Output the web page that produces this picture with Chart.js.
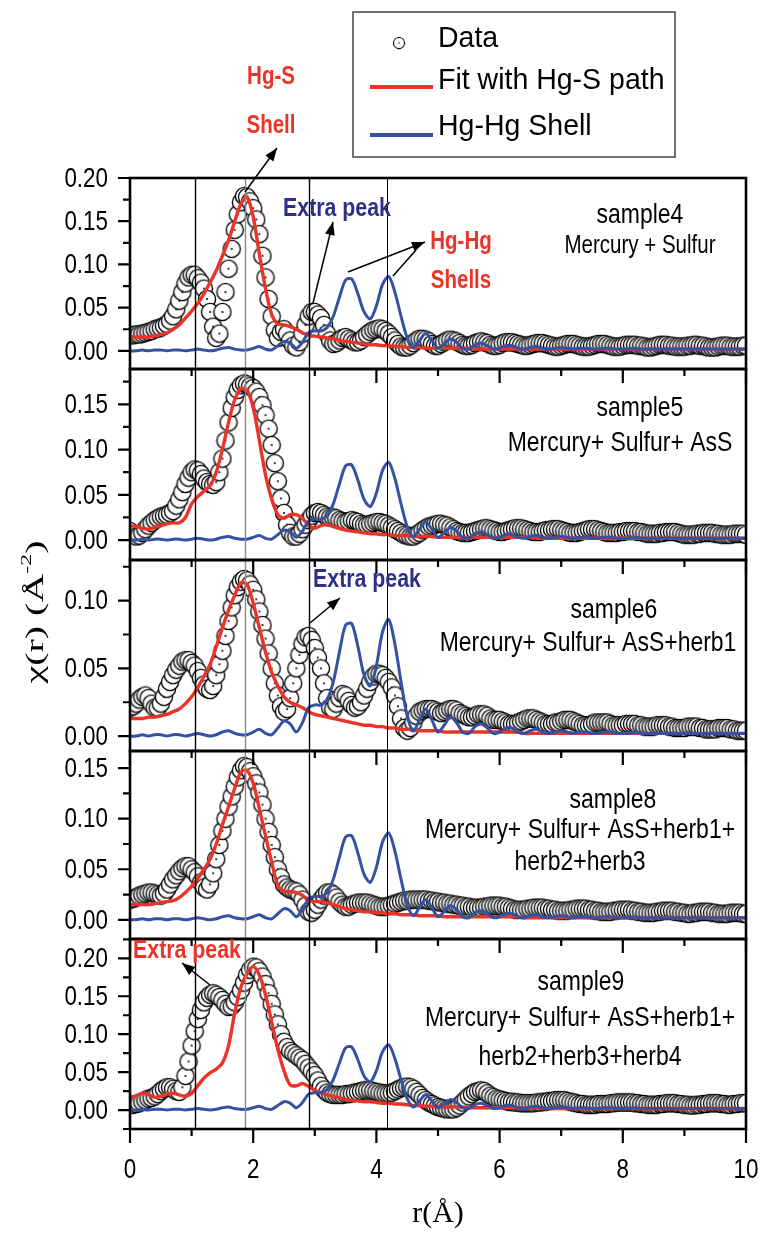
<!DOCTYPE html>
<html>
<head>
<meta charset="utf-8">
<title>Hg L3-edge FT magnitudes</title>
<script src="https://cdn.jsdelivr.net/npm/chart.js@4.4.0/dist/chart.umd.min.js"></script>
<style>
  html, body { margin: 0; padding: 0; background: #fff; }
  #chart { display: block; }
</style>
</head>
<body>
<canvas id="chart" width="762" height="1236"></canvas>
<script>
// r grids (Å): measured points every 0.05, fitted paths every 0.1
const rData = Array.from({ length: 201 }, (_, i) => i / 20);
const rFit = Array.from({ length: 101 }, (_, i) => i / 10);

// ---- sample4 : Mercury + Sulfur
const data4 = [
  .018,.018,.019,.019,.020,.021,.022,.023,.025,.026,
  .027,.029,.031,.035,.040,.048,.058,.068,.078,.085,
  .088,.088,.084,.079,.072,.060,.045,.028,.015,.020,
  .045,.068,.095,.118,.140,.158,.172,.179,.178,.173,
  .165,.152,.135,.110,.085,.060,.040,.024,.015,.022,
  .025,.020,.012,.006,.004,.010,.020,.030,.040,.045,
  .045,.042,.038,.030,.020,.012,.008,.009,.012,.015,
  .016,.014,.012,.010,.010,.012,.016,.019,.022,.024,
  .025,.026,.025,.023,.020,.016,.012,.008,.005,.004,
  .004,.006,.009,.012,.014,.014,.013,.011,.008,.006,
  .006,.008,.010,.012,.013,.012,.011,.009,.007,.006,
  .006,.007,.009,.010,.011,.010,.009,.007,.006,.006,
  .007,.009,.010,.010,.010,.009,.008,.007,.006,.006,
  .007,.008,.009,.009,.009,.008,.007,.006,.005,.005,
  .006,.007,.008,.008,.008,.007,.006,.005,.005,.005,
  .006,.007,.008,.008,.008,.007,.006,.005,.005,.005,
  .006,.007,.007,.007,.007,.006,.006,.005,.004,.004,
  .005,.006,.007,.007,.007,.006,.006,.005,.005,.005,
  .005,.006,.006,.007,.007,.006,.006,.005,.004,.004,
  .004,.005,.006,.006,.006,.005,.005,.005,.005,.006,
  .006];
const fit4 = [
  .016,.016,.016,.016,.017,.019,.021,.025,.030,.038,
  .046,.055,.066,.079,.093,.110,.128,.150,.170,.178,
  .155,.112,.072,.042,.031,.030,.028,.025,.021,.018,
  .017,.016,.015,.014,.012,.011,.010,.009,.008,.007,
  .007,.006,.006,.005,.005,.004,.004,.004,.003,.003,
  .003,.003,.003,.003,.003,.003,.002,.002,.002,.002,
  .002,.002,.002,.002,.002,.002,.002,.002,.002,.002,
  .002,.002,.002,.002,.002,.002,.002,.002,.002,.002,
  .002,.002,.002,.002,.002,.002,.002,.002,.002,.002,
  .002,.002,.002,.002,.002,.002,.002,.002,.002,.002,
  .002];

// ---- sample5 : Mercury+ Sulfur+ AsS
const data5 = [
  .010,.006,.004,.005,.008,.012,.016,.019,.022,.024,
  .026,.027,.028,.030,.032,.038,.045,.053,.062,.069,
  .075,.078,.077,.073,.068,.064,.062,.061,.064,.075,
  .090,.110,.130,.146,.158,.166,.171,.173,.172,.170,
  .168,.164,.158,.149,.138,.123,.105,.085,.065,.046,
  .030,.017,.008,.004,.004,.007,.012,.017,.022,.027,
  .030,.031,.030,.028,.026,.025,.025,.024,.022,.021,
  .020,.021,.022,.021,.020,.018,.017,.017,.018,.019,
  .020,.020,.019,.018,.016,.014,.012,.010,.008,.006,
  .005,.004,.004,.006,.008,.011,.013,.015,.016,.017,
  .018,.018,.017,.016,.014,.012,.010,.009,.008,.008,
  .008,.009,.010,.011,.012,.013,.013,.012,.011,.010,
  .009,.009,.010,.011,.012,.013,.013,.013,.012,.011,
  .010,.009,.009,.009,.010,.011,.011,.012,.012,.012,
  .011,.010,.009,.008,.008,.008,.009,.010,.011,.012,
  .012,.012,.011,.010,.009,.008,.008,.008,.008,.009,
  .009,.010,.010,.010,.010,.009,.009,.008,.007,.007,
  .007,.007,.008,.008,.009,.009,.009,.009,.008,.007,
  .006,.006,.006,.006,.007,.007,.008,.008,.008,.008,
  .007,.007,.006,.006,.006,.006,.007,.007,.007,.007,
  .006];
const fit5 = [
  .016,.015,.013,.012,.014,.016,.018,.019,.019,.025,
  .040,.048,.054,.060,.075,.100,.130,.155,.167,.166,
  .146,.110,.072,.045,.028,.024,.028,.028,.024,.016,
  .013,.016,.017,.015,.013,.011,.010,.009,.008,.007,
  .007,.006,.006,.005,.005,.005,.004,.004,.004,.004,
  .003,.003,.003,.003,.003,.003,.003,.003,.003,.003,
  .003,.003,.003,.003,.003,.003,.002,.002,.002,.002,
  .002,.002,.002,.002,.002,.002,.002,.002,.002,.002,
  .002,.002,.002,.002,.002,.002,.002,.002,.002,.002,
  .002,.002,.002,.002,.002,.002,.002,.002,.002,.002,
  .002];

// ---- sample6 : Mercury+ Sulfur+ AsS+herb1
const data6 = [
  .021,.022,.024,.027,.029,.030,.028,.024,.021,.021,
  .024,.029,.035,.040,.045,.049,.052,.055,.056,.056,
  .054,.052,.048,.043,.038,.035,.034,.037,.045,.053,
  .063,.074,.085,.095,.104,.110,.114,.116,.115,.112,
  .108,.101,.092,.082,.072,.061,.050,.039,.030,.022,
  .018,.020,.028,.039,.050,.060,.068,.073,.074,.071,
  .065,.058,.050,.039,.028,.021,.020,.024,.028,.031,
  .030,.026,.023,.021,.022,.025,.030,.035,.040,.044,
  .046,.046,.045,.043,.040,.036,.030,.022,.013,.006,
  .004,.006,.010,.015,.018,.019,.020,.020,.020,.019,
  .018,.017,.018,.019,.020,.020,.019,.017,.016,.015,
  .014,.014,.015,.016,.016,.016,.015,.013,.012,.012,
  .012,.011,.010,.009,.009,.009,.010,.011,.012,.013,
  .013,.013,.012,.011,.010,.009,.009,.009,.010,.010,
  .011,.012,.012,.012,.011,.010,.009,.008,.008,.008,
  .009,.010,.010,.010,.010,.010,.009,.008,.008,.008,
  .008,.009,.009,.009,.009,.008,.008,.007,.007,.007,
  .007,.008,.008,.008,.008,.007,.007,.006,.006,.006,
  .006,.007,.007,.007,.007,.006,.006,.005,.005,.005,
  .005,.006,.006,.006,.006,.005,.005,.004,.004,.004,
  .004];
const fit6 = [
  .013,.013,.013,.014,.014,.015,.016,.018,.020,.024,
  .029,.036,.044,.053,.066,.080,.093,.104,.113,.112,
  .098,.080,.062,.047,.037,.029,.025,.023,.021,.018,
  .016,.015,.014,.013,.012,.011,.010,.009,.008,.008,
  .007,.007,.006,.006,.005,.005,.005,.004,.004,.004,
  .004,.003,.003,.003,.003,.003,.003,.003,.003,.003,
  .003,.003,.003,.003,.002,.002,.002,.002,.002,.002,
  .002,.002,.002,.002,.002,.002,.002,.002,.002,.002,
  .002,.002,.002,.002,.002,.002,.002,.002,.002,.002,
  .002,.002,.002,.002,.002,.002,.002,.002,.002,.002,
  .002];

// ---- sample8 : Mercury+ Sulfur+ AsS+herb1+herb2+herb3
const data8 = [
  .020,.021,.022,.024,.025,.026,.027,.027,.026,.025,
  .024,.026,.030,.035,.040,.044,.048,.051,.053,.053,
  .050,.047,.043,.037,.032,.030,.035,.046,.060,.074,
  .088,.100,.112,.122,.132,.141,.148,.152,.151,.147,
  .142,.135,.126,.114,.100,.087,.074,.062,.050,.042,
  .035,.032,.030,.029,.028,.025,.020,.014,.008,.007,
  .010,.015,.020,.024,.027,.027,.025,.022,.018,.015,
  .013,.013,.015,.016,.017,.017,.017,.017,.016,.015,
  .014,.013,.013,.013,.014,.015,.016,.017,.018,.019,
  .019,.020,.020,.020,.020,.020,.020,.019,.019,.018,
  .018,.017,.017,.016,.016,.015,.015,.014,.014,.013,
  .013,.012,.012,.012,.012,.013,.013,.014,.014,.014,
  .014,.013,.013,.012,.011,.010,.010,.010,.010,.011,
  .011,.012,.012,.012,.012,.011,.011,.010,.010,.009,
  .009,.009,.009,.010,.010,.011,.011,.011,.011,.010,
  .010,.009,.009,.008,.008,.008,.008,.009,.009,.010,
  .010,.010,.010,.009,.009,.008,.008,.007,.007,.007,
  .007,.008,.008,.009,.009,.009,.009,.008,.008,.007,
  .007,.006,.006,.007,.007,.008,.008,.008,.008,.007,
  .007,.006,.006,.006,.006,.007,.007,.007,.007,.006,
  .006];
const fit8 = [
  .015,.015,.015,.015,.016,.017,.018,.019,.022,.027,
  .033,.041,.050,.060,.075,.094,.112,.130,.146,.148,
  .135,.110,.083,.057,.034,.028,.028,.027,.024,.019,
  .018,.018,.017,.015,.013,.011,.010,.009,.008,.008,
  .007,.007,.006,.006,.005,.005,.005,.004,.004,.004,
  .004,.003,.003,.003,.003,.003,.003,.003,.003,.003,
  .003,.003,.003,.003,.002,.002,.002,.002,.002,.002,
  .002,.002,.002,.002,.002,.002,.002,.002,.002,.002,
  .002,.002,.002,.002,.002,.002,.002,.002,.002,.002,
  .002,.002,.002,.002,.002,.002,.002,.002,.002,.002,
  .002];

// ---- sample9 : Mercury+ Sulfur+ AsS+herb1+herb2+herb3+herb4
const data9 = [
  .007,.007,.008,.009,.011,.013,.015,.016,.018,.021,
  .025,.028,.030,.030,.028,.025,.024,.030,.045,.064,
  .085,.104,.120,.132,.142,.148,.152,.154,.152,.149,
  .145,.140,.136,.137,.142,.149,.158,.168,.178,.185,
  .189,.188,.183,.176,.166,.154,.140,.126,.113,.100,
  .090,.083,.078,.075,.072,.069,.066,.061,.056,.051,
  .046,.039,.032,.027,.023,.021,.020,.020,.020,.020,
  .021,.021,.022,.023,.024,.025,.026,.026,.026,.025,
  .024,.023,.022,.022,.022,.023,.025,.027,.029,.030,
  .031,.030,.028,.024,.020,.016,.013,.010,.008,.006,
  .004,.003,.002,.001,.001,.001,.003,.006,.010,.014,
  .018,.021,.024,.025,.026,.025,.022,.019,.017,.015,
  .014,.013,.012,.011,.011,.010,.010,.009,.009,.009,
  .009,.009,.010,.010,.011,.011,.012,.012,.013,.013,
  .013,.013,.012,.011,.010,.009,.008,.008,.007,.007,
  .007,.007,.008,.008,.008,.008,.009,.009,.010,.010,
  .010,.010,.010,.010,.009,.009,.008,.008,.007,.007,
  .007,.007,.008,.008,.009,.009,.009,.009,.008,.008,
  .007,.007,.006,.006,.007,.007,.008,.008,.009,.009,
  .009,.009,.008,.008,.007,.007,.008,.008,.009,.009,
  .009];
const fit9 = [
  .016,.019,.022,.020,.017,.018,.021,.022,.020,.018,
  .022,.032,.042,.049,.054,.062,.085,.128,.162,.180,
  .189,.178,.152,.116,.080,.052,.033,.032,.035,.031,
  .026,.023,.020,.018,.016,.014,.013,.012,.011,.011,
  .010,.009,.009,.008,.008,.007,.006,.006,.005,.005,
  .005,.004,.004,.004,.004,.003,.003,.003,.003,.003,
  .003,.003,.003,.003,.003,.003,.003,.002,.002,.002,
  .002,.002,.002,.002,.002,.002,.002,.002,.002,.002,
  .002,.002,.002,.002,.002,.002,.002,.002,.002,.002,
  .002,.002,.002,.002,.002,.002,.002,.002,.002,.002,
  .002];

// Hg-Hg shell path (same in every panel)
const hgShell = [
  .000,.000,.001,.000,.001,.001,.000,.001,.001,.000,
  .001,.002,.001,.000,.001,.003,.004,.002,.001,.001,
  .003,.005,.002,.001,.006,.011,.009,.003,.010,.021,
  .023,.023,.027,.040,.062,.082,.083,.066,.045,.037,
  .052,.077,.086,.068,.040,.015,.004,.012,.020,.012,
  .003,.008,.014,.010,.003,.002,.007,.009,.006,.002,
  .003,.006,.006,.003,.002,.004,.005,.003,.002,.003,
  .004,.003,.002,.003,.003,.002,.002,.003,.003,.002,
  .002,.002,.003,.002,.002,.002,.002,.002,.002,.002,
  .002,.002,.002,.002,.002,.002,.002,.002,.002,.002,
  .002];

// panels, top to bottom
const panelIds = ['y4', 'y5', 'y6', 'y8', 'y9'];
const panelData = [data4, data5, data6, data8, data9];
const panelFit = [fit4, fit5, fit6, fit8, fit9];
const yMin = [-0.021, -0.022, -0.011, -0.019, -0.025];
const yMax = [0.20, 0.189, 0.13, 0.167, 0.2255];
const panelWeight = [191, 191, 191, 188, 190];
const sampleNames = ['sample4', 'sample5', 'sample6', 'sample8', 'sample9'];
const sampleText = [
  ['Mercury + Sulfur'],
  ['Mercury+ Sulfur+ AsS'],
  ['Mercury+ Sulfur+ AsS+herb1'],
  ['Mercury+ Sulfur+ AsS+herb1+', 'herb2+herb3'],
  ['Mercury+ Sulfur+ AsS+herb1+', 'herb2+herb3+herb4']
];
const xTicks = [0, 2, 4, 6, 8, 10];
const refLines = [1.05, 1.87, 2.91, 4.17];

const RED = '#ec3327';
const BLUE = '#3451a3';
const NAVY = '#2e2f86';
const SANS = '"Liberation Sans", Arial, sans-serif';
const SERIF = '"Liberation Serif", "Times New Roman", serif';

// open circle with a centre dot, like the Origin symbol
const ring = document.createElement('canvas');
ring.width = 20; ring.height = 20;
(() => {
  const c = ring.getContext('2d');
  c.beginPath(); c.arc(10, 10, 8.6, 0, Math.PI * 2);
  c.fillStyle = '#fff'; c.fill();
  c.lineWidth = 1.35; c.strokeStyle = '#000'; c.stroke();
  c.beginPath(); c.arc(10, 10, 1, 0, Math.PI * 2);
  c.fillStyle = '#000'; c.fill();
})();

const pts = (xs, ys) => ys.map((y, i) => ({ x: xs[i], y }));

const datasets = [];
panelIds.forEach((id, i) => {
  datasets.push({
    label: 'Hg-Hg Shell', data: pts(rFit, hgShell), yAxisID: id,
    borderColor: BLUE, borderWidth: 3, pointRadius: 0, tension: 0.3, order: 0, clip: 0
  });
  datasets.push({
    label: 'Fit with Hg-S path', data: pts(rFit, panelFit[i]), yAxisID: id,
    borderColor: RED, borderWidth: 3.4, pointRadius: 0, tension: 0.3, order: 1, clip: 0
  });
  datasets.push({
    label: 'Data', data: pts(rData, panelData[i]), yAxisID: id, showLine: false,
    pointStyle: ring, pointRadius: 9, order: 2, clip: 0
  });
});

const scales = {
  x: {
    type: 'linear', position: 'bottom', min: 0, max: 10,
    afterFit: (s) => { s.height = 107; },
    afterBuildTicks: (s) => { s.ticks = xTicks.map((v) => ({ value: v })); },
    grid: { display: false },
    border: { display: false },
    ticks: { display: false },
    title: { display: true, text: 'r(Å)', color: '#000', padding: { top: 0, bottom: 4 },
             font: { family: SERIF, size: 30 } }
  }
};
panelIds.forEach((id, i) => {
  scales[id] = {
    type: 'linear', position: 'left', stack: 'panels', stackWeight: panelWeight[i],
    weight: 10 - i, min: yMin[i], max: yMax[i],
    afterFit: (s) => { s.width = 130; },
    grid: { display: false },
    border: { display: false },
    ticks: { display: false, autoSkip: false, stepSize: 0.05, includeBounds: false }
  };
});

// Arial Narrow look: horizontally condensed Liberation Sans
function narrow(ctx, text, x, y, size, align, bold, sx) {
  ctx.save();
  ctx.translate(x, y);
  ctx.scale(sx || 0.82, 1);
  ctx.font = (bold ? 'bold ' : '') + size + 'px ' + SANS;
  ctx.textAlign = align;
  ctx.textBaseline = 'middle';
  ctx.fillText(text, 0, 0);
  ctx.restore();
}

function arrow(ctx, x1, y1, x2, y2, head) {
  ctx.beginPath(); ctx.moveTo(x1, y1); ctx.lineTo(x2, y2); ctx.stroke();
  if (!head) return;
  const a = Math.atan2(y2 - y1, x2 - x1);
  ctx.beginPath();
  ctx.moveTo(x2, y2);
  ctx.lineTo(x2 - 13 * Math.cos(a) + 5 * Math.sin(a), y2 - 13 * Math.sin(a) - 5 * Math.cos(a));
  ctx.lineTo(x2 - 13 * Math.cos(a) - 5 * Math.sin(a), y2 - 13 * Math.sin(a) + 5 * Math.cos(a));
  ctx.closePath(); ctx.fill();
}

const decor = {
  id: 'decor',
  afterDatasetsDraw(chart) {
    const ctx = chart.ctx;
    const xs = chart.scales.x;
    const { left, right } = chart.chartArea;
    const top0 = chart.scales[panelIds[0]].top;
    const bot0 = chart.scales[panelIds[4]].bottom;
    ctx.save();

    // reference lines through all panels
    refLines.forEach((v, k) => {
      const px = Math.round(xs.getPixelForValue(v)) + 0.5;
      ctx.strokeStyle = k === 1 ? '#8a8a8a' : '#000';
      ctx.lineWidth = k === 3 ? 1 : 1.4;
      ctx.beginPath(); ctx.moveTo(px, top0); ctx.lineTo(px, bot0); ctx.stroke();
    });

    // frames, outward ticks and tick labels
    ctx.strokeStyle = '#000';
    ctx.fillStyle = '#000';
    panelIds.forEach((id, i) => {
      const ys = chart.scales[id];
      ctx.lineWidth = 2.6;
      ctx.strokeRect(left, ys.top, right - left, ys.bottom - ys.top);
      ctx.lineWidth = 2.2;
      ctx.beginPath();
      for (let v = Math.ceil(yMin[i] / 0.025) * 0.025; v <= yMax[i] + 1e-9; v += 0.025) {
        const py = ys.getPixelForValue(v);
        const major = Math.abs(Math.round(v / 0.05) * 0.05 - v) < 1e-6;
        ctx.moveTo(left, py); ctx.lineTo(left - (major ? 12 : 7), py);
      }
      for (let v = 0; v <= 10; v++) {
        const px = xs.getPixelForValue(v);
        ctx.moveTo(px, ys.bottom); ctx.lineTo(px, ys.bottom + (v % 2 ? 7 : 14));
      }
      ctx.stroke();
      ys.ticks.forEach((t) => {
        narrow(ctx, t.value.toFixed(2), 108, ys.getPixelForValue(t.value) + 1, 28, 'right', false, 0.8);
      });

      // sample captions
      const cx = [640, 640, 614, 613, 581][i];
      const offs = [[37, 68], [39, 74], [50, 83], [49, 79, 111], [43, 79, 118]][i];
      const lx = [640, 620, 588, 580, 580][i];
      narrow(ctx, sampleNames[i], cx, ys.top + offs[0], 28, 'center');
      sampleText[i].forEach((t, k) => narrow(ctx, t, lx, ys.top + offs[k + 1], i === 0 ? 25 : 28, 'center'));
    });
    xs.ticks.forEach((t) => {
      narrow(ctx, String(t.value), xs.getPixelForValue(t.value), 1170, 28, 'center', false, 0.8);
    });

    // annotations
    ctx.fillStyle = RED;
    narrow(ctx, 'Hg-S', 271, 77, 25, 'center', true);
    narrow(ctx, 'Shell', 271, 126, 25, 'center', true);
    narrow(ctx, 'Hg-Hg', 461, 242, 25, 'center', true);
    narrow(ctx, 'Shells', 461, 281, 25, 'center', true);
    narrow(ctx, 'Extra peak', 187, 951, 26, 'center', true);
    ctx.fillStyle = NAVY;
    narrow(ctx, 'Extra peak', 337, 209, 26, 'center', true);
    narrow(ctx, 'Extra peak', 367, 580, 26, 'center', true);

    ctx.strokeStyle = '#000'; ctx.fillStyle = '#000'; ctx.lineWidth = 1.5;
    arrow(ctx, 245, 192, 277, 148, true);
    arrow(ctx, 313, 303, 333, 222, true);
    arrow(ctx, 348, 272, 425, 242, true);
    arrow(ctx, 393, 276, 416, 250, false);
    arrow(ctx, 310, 623, 340, 598, true);
    arrow(ctx, 210, 985, 182, 963, true);

    // legend
    ctx.lineWidth = 1.5; ctx.strokeStyle = '#444';
    ctx.strokeRect(353, 12, 322, 145);
    ctx.drawImage(ring, 399 - 6.5, 43 - 6.5, 13, 13);
    ctx.lineWidth = 4;
    ctx.strokeStyle = RED;
    ctx.beginPath(); ctx.moveTo(370, 87); ctx.lineTo(433, 87); ctx.stroke();
    ctx.strokeStyle = BLUE;
    ctx.beginPath(); ctx.moveTo(370, 135); ctx.lineTo(433, 135); ctx.stroke();
    ctx.fillStyle = '#000';
    narrow(ctx, 'Data', 438, 39, 30, 'left', false, 0.95);
    narrow(ctx, 'Fit with Hg-S path', 438, 81, 30, 'left', false, 0.95);
    narrow(ctx, 'Hg-Hg Shell', 438, 127, 30, 'left', false, 0.95);

    // y title, spanning the stack
    ctx.translate(36, 612);
    ctx.rotate(-Math.PI / 2);
    ctx.textBaseline = 'middle';
    ctx.font = '25px ' + SERIF;
    const w1 = ctx.measureText('χ(r) (Å').width;
    const w3 = ctx.measureText(')').width;
    ctx.font = '15px ' + SERIF;
    const w2 = ctx.measureText('-2').width;
    const total = w1 + w2 + w3;
    ctx.scale(143 / total, 1);
    let tx = -total / 2;
    ctx.textAlign = 'left';
    ctx.font = '25px ' + SERIF;
    ctx.fillText('χ(r) (Å', tx, 0); tx += w1;
    ctx.font = '15px ' + SERIF;
    ctx.fillText('-2', tx, -9); tx += w2;
    ctx.font = '25px ' + SERIF;
    ctx.fillText(')', tx, 0);
    ctx.restore();
  }
};

new Chart(document.getElementById('chart'), {
  type: 'line',
  data: { datasets },
  options: {
    responsive: false,
    animation: false,
    events: [],
    layout: { padding: { top: 178, right: 16, bottom: 0, left: 0 } },
    plugins: { legend: { display: false }, tooltip: { enabled: false } },
    scales
  },
  plugins: [decor]
});
</script>
</body>
</html>
